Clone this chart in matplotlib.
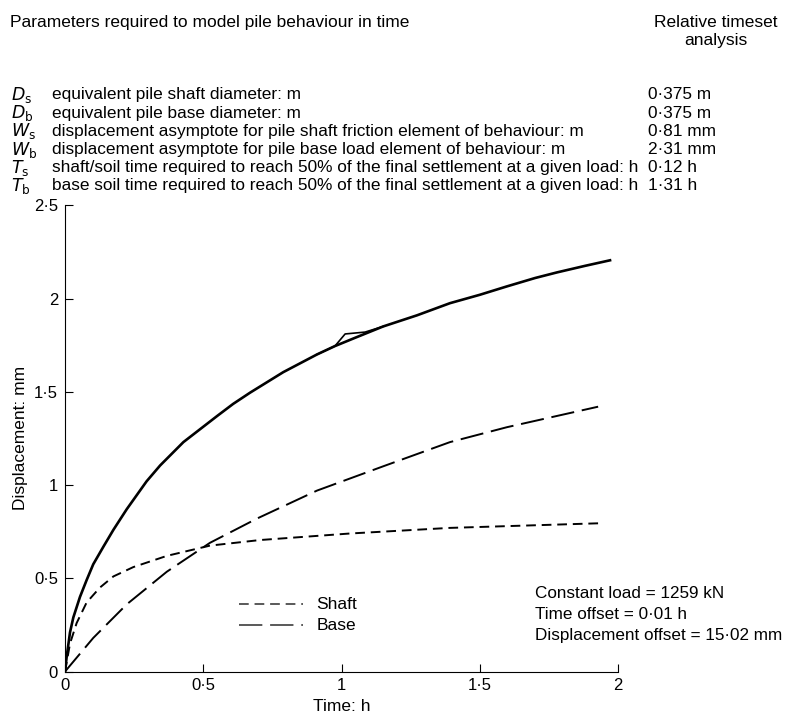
import matplotlib
matplotlib.use("Agg")
from matplotlib import pyplot as plt

plt.rcParams['font.family'] = ['Liberation Sans', 'DejaVu Sans']

# total displacement (fitted)
t_total = [0, 0.006, 0.018, 0.030, 0.054, 0.078, 0.102, 0.139, 0.175, 0.223,
           0.295, 0.344, 0.428, 0.55, 0.608, 0.669, 0.789, 0.911, 0.976, 1.05,
           1.15, 1.273, 1.392, 1.50, 1.598, 1.70, 1.779, 1.88, 1.971]
d_total = [0, 0.08, 0.21, 0.29, 0.40, 0.49, 0.575, 0.67, 0.76, 0.87,
           1.02, 1.105, 1.23, 1.37, 1.435, 1.495, 1.605, 1.70, 1.745, 1.79,
           1.85, 1.91, 1.975, 2.02, 2.065, 2.11, 2.14, 2.175, 2.205]

# measured trace, with the little step near 1 h
t_meas = [0.911, 0.976, 1.013, 1.085, 1.15]
d_meas = [1.70, 1.745, 1.81, 1.82, 1.85]

t_shaft = [0, 0.018, 0.042, 0.078, 0.126, 0.175, 0.247, 0.368, 0.524, 0.705,
           1.03, 1.39, 1.935]
d_shaft = [0, 0.15, 0.26, 0.37, 0.45, 0.51, 0.56, 0.62, 0.675, 0.705,
           0.74, 0.77, 0.795]

t_base = [0, 0.102, 0.223, 0.368, 0.524, 0.694, 0.911, 1.15, 1.392, 1.598, 1.928]
d_base = [0, 0.18, 0.36, 0.535, 0.69, 0.82, 0.97, 1.10, 1.23, 1.31, 1.42]

symbols = [r'$D_\mathrm{s}$', r'$D_\mathrm{b}$', r'$W_\mathrm{s}$',
           r'$W_\mathrm{b}$', r'$T_\mathrm{s}$', r'$T_\mathrm{b}$']
descriptions = [
    'equivalent pile shaft diameter: m',
    'equivalent pile base diameter: m',
    'displacement asymptote for pile shaft friction element of behaviour: m',
    'displacement asymptote for pile base load element of behaviour: m',
    'shaft/soil time required to reach 50% of the final settlement at a given load: h',
    'base soil time required to reach 50% of the final settlement at a given load: h',
]
values = ['0·375 m', '0·375 m', '0·81 mm', '2·31 mm', '0·12 h', '1·31 h']

x_ticks = [0, 0.5, 1, 1.5, 2]
x_labels = ['0', '0·5', '1', '1·5', '2']
y_ticks = [0, 0.5, 1, 1.5, 2, 2.5]
y_labels = ['0', '0·5', '1', '1·5', '2', '2·5']

fig = plt.figure(figsize=(7.98, 7.14), dpi=100)
ax = fig.add_axes([0.0815, 0.0595, 0.693, 0.653])

ax.plot(t_total, d_total, color='black', lw=1.9)
ax.plot(t_meas, d_meas, color='black', lw=1.2)
ax.plot(t_shaft, d_shaft, color='black', lw=1.4, dashes=(5, 3))
ax.plot(t_base, d_base, color='black', lw=1.4, dashes=(12, 4))

ax.set_xlim(0, 2)
ax.set_ylim(0, 2.5)
ax.spines['top'].set_visible(False)
ax.spines['right'].set_visible(False)
ax.set_xticks(x_ticks, x_labels)
ax.set_yticks(y_ticks, y_labels)
ax.tick_params(direction='in', length=6, labelsize=12, pad=5)
ax.set_xlabel('Time: h', fontsize=12.5)
ax.set_ylabel('Displacement: mm', fontsize=12.5)

# legend drawn by hand in axes coordinates
ax.plot([0.315, 0.43], [0.144, 0.144], transform=ax.transAxes, color='0.35',
        lw=1.4, dashes=(5, 3))
ax.plot([0.315, 0.43], [0.099, 0.099], transform=ax.transAxes, color='0.35',
        lw=1.4, dashes=(12, 4))
ax.text(0.455, 0.144, 'Shaft', transform=ax.transAxes, va='center', fontsize=12.5)
ax.text(0.455, 0.099, 'Base', transform=ax.transAxes, va='center', fontsize=12.5)

notes = ['Constant load = 1259 kN', 'Time offset = 0·01 h',
         'Displacement offset = 15·02 mm']
for i, s in enumerate(notes):
    fig.text(0.670, 0.169 - i * 0.0295, s, fontsize=12.3, va='center')

fig.text(0.012, 0.969, 'Parameters required to model pile behaviour in time',
         fontsize=12.5, va='center')
fig.text(0.897, 0.969, 'Relative timeset', fontsize=12.5, va='center', ha='center')
fig.text(0.897, 0.943, 'analysis', fontsize=12.5, va='center', ha='center')
for i in range(6):
    y = 0.867 - i * 0.0255
    fig.text(0.014, y, symbols[i], fontsize=12.5, va='center')
    fig.text(0.065, y, descriptions[i], fontsize=12.4, va='center')
    fig.text(0.812, y, values[i], fontsize=12.4, va='center')

fig.savefig('out.png', dpi=100)
